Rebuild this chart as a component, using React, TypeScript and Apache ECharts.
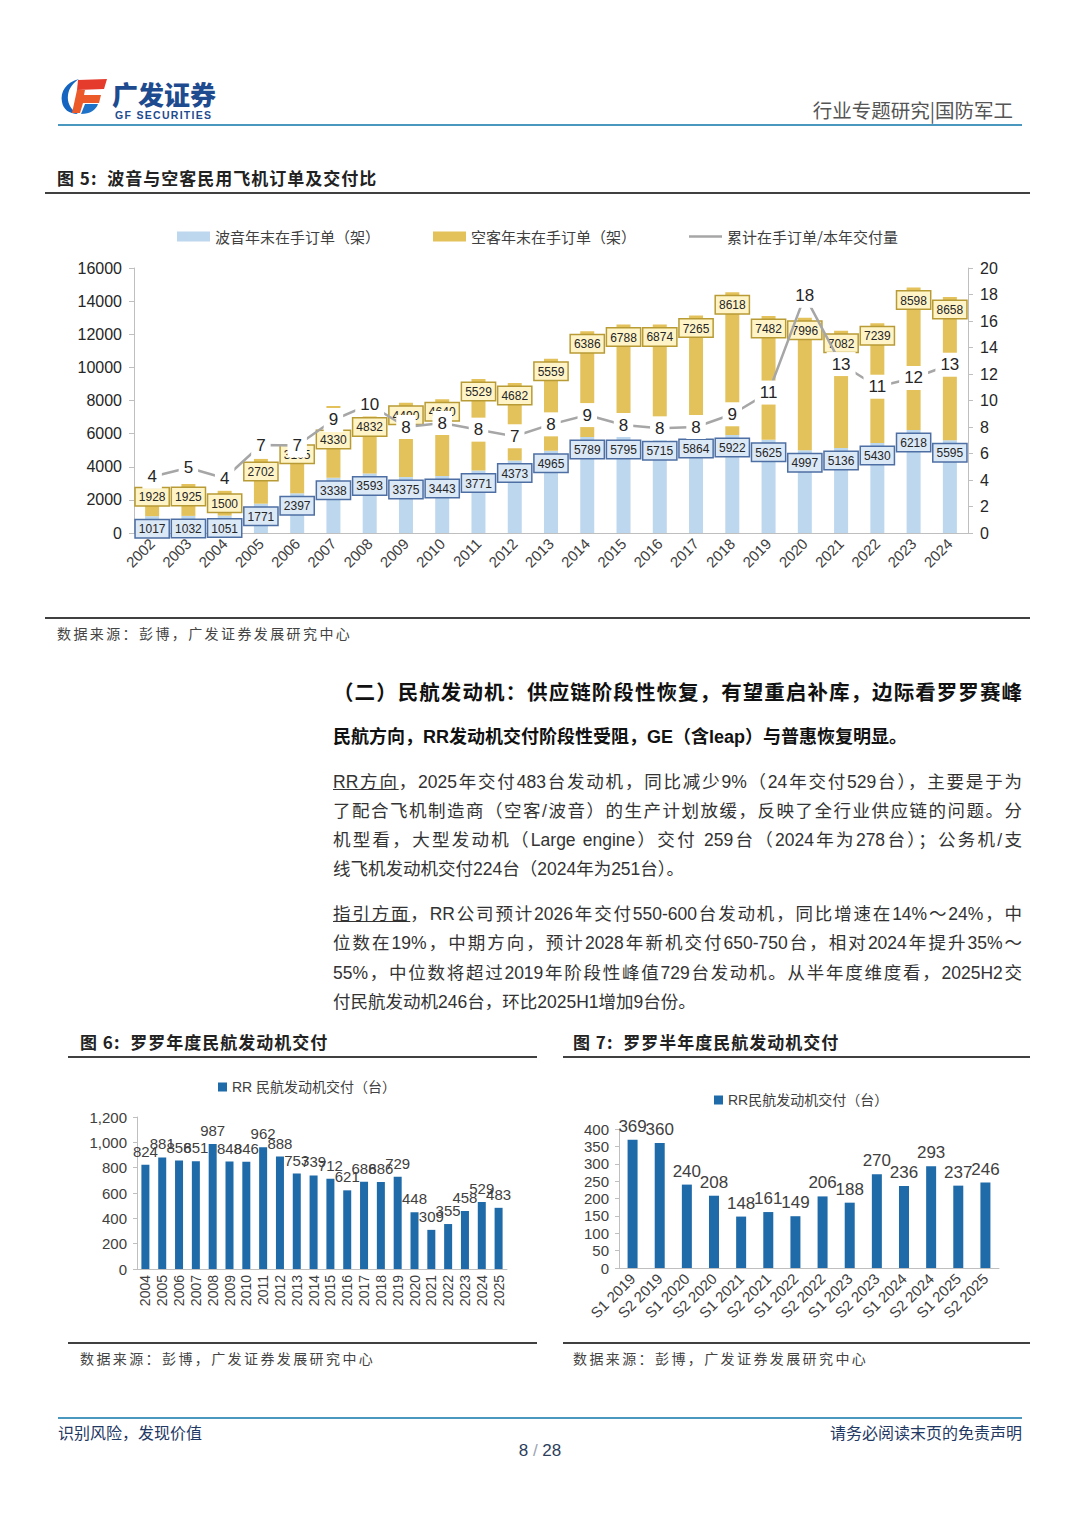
import React, { useEffect, useRef } from "react";
import * as echarts from "echarts";

// ---------- data ----------
const years5 = ["2002","2003","2004","2005","2006","2007","2008","2009","2010","2011","2012","2013","2014","2015","2016","2017","2018","2019","2020","2021","2022","2023","2024"];
const boeingBacklog = [1017,1032,1051,1771,2397,3338,3593,3375,3443,3771,4373,4965,5789,5795,5715,5864,5922,5625,4997,5136,5430,6218,5595];
const airbusBacklog = [1928,1925,1500,2702,3105,4330,4832,4490,4640,5529,4682,5559,6386,6788,6874,7265,8618,7482,7996,7082,7239,8598,8658];
const backlogRatio = [4.25,4.93,4.13,6.64,6.6,8.53,9.7,8.0,8.3,7.8,7.3,8.2,8.9,8.15,7.9,8.0,8.96,10.6,17.9,12.75,11.04,11.7,12.7];

const years6 = ["2004","2005","2006","2007","2008","2009","2010","2011","2012","2013","2014","2015","2016","2017","2018","2019","2020","2021","2022","2023","2024","2025"];
const rrAnnual = [824,881,856,851,987,848,846,962,888,753,739,712,621,688,686,729,448,309,355,458,529,483];

const halves7 = ["S1 2019","S2 2019","S1 2020","S2 2020","S1 2021","S2 2021","S1 2022","S2 2022","S1 2023","S2 2023","S1 2024","S2 2024","S1 2025","S2 2025"];
const rrHalf = [369,360,240,208,148,161,149,206,188,270,236,293,237,246];

// years whose Airbus label sits lower in the reference (moved below the ratio label)
const loweredAirbusLabelYears = ["2007", "2008"];

const seriesNames = {
  boeing: "波音年末在手订单（架）",
  airbus: "空客年末在手订单（架）",
  ratio: "累计在手订单/本年交付量",
  annual: "RR 民航发动机交付（台）",
  half: "RR民航发动机交付（台）",
};

const LAT = '"Liberation Sans", Arial, "Noto Sans CJK SC", sans-serif';
const CJK = '"Noto Sans CJK SC", "Liberation Sans", sans-serif';
const MIX = '"Liberation Sans", "Noto Sans CJK SC", sans-serif';

const axisGray = "#bfbfbf";
const txt = "#404040";

function Txt(props: { x?: number; right?: number; cy: number; size: number; h?: number; children: any; style?: any }) {
  const h = props.h ?? Math.round(props.size * 1.5);
  const st: any = {
    position: "absolute",
    top: props.cy - h / 2,
    height: h,
    lineHeight: h + "px",
    fontSize: props.size,
    fontFamily: MIX,
    whiteSpace: "nowrap",
    ...props.style,
  };
  if (props.x !== undefined) st.left = props.x;
  if (props.right !== undefined) st.right = 1080 - props.right;
  return <div style={st}>{props.children}</div>;
}

function Rule(props: { x1: number; x2: number; y: number; w: number; color: string }) {
  return (
    <div
      style={{
        position: "absolute",
        left: props.x1,
        top: props.y - props.w / 2,
        width: props.x2 - props.x1,
        height: props.w,
        background: props.color,
      }}
    />
  );
}

function JLine(props: { cy: number; children: any; last?: boolean; size?: number }) {
  const size = props.size ?? 17.5;
  const h = 26;
  return (
    <div
      style={{
        position: "absolute",
        left: 333,
        top: props.cy - h / 2,
        width: 689,
        height: h,
        lineHeight: h + "px",
        fontSize: size,
        fontFamily: MIX,
        color: "#333",
        textAlign: props.last ? "left" : "justify",
        textAlignLast: props.last ? "left" : "justify",
      } as any}
    >
      {props.children}
    </div>
  );
}

export default function App() {
  const ref = useRef<HTMLDivElement>(null);

  useEffect(() => {
    if (!ref.current) return;
    const chart = echarts.init(ref.current, undefined, { renderer: "svg" });

    const boxLabel = (bg: string, border: string) => ({
      show: true,
      position: "insideTop",
      distance: 4,
      fontSize: 12,
      fontFamily: LAT,
      color: "#262626",
      backgroundColor: bg,
      borderColor: border,
      borderWidth: 1.5,
      padding: [3, 3, 2, 3],
    });

    const airbusData = airbusBacklog.map((v, i) =>
      loweredAirbusLabelYears.includes(years5[i]) ? { value: v, label: { offset: [0, 21] } } : v
    );

    const option: any = {
      animation: false,
      textStyle: { fontFamily: LAT },
      legend: [
        {
          left: 172,
          top: 224,
          itemWidth: 33,
          itemHeight: 10,
          itemGap: 53,
          selectedMode: false,
          textStyle: { fontFamily: CJK, fontSize: 15, color: txt },
          data: [
            { name: seriesNames.boeing, icon: "rect" },
            { name: seriesNames.airbus, icon: "rect" },
            { name: seriesNames.ratio, icon: "path://M0,0h40v3h-40z" },
          ],
        },
        {
          left: 213,
          top: 1075,
          itemWidth: 9,
          itemHeight: 9,
          selectedMode: false,
          textStyle: { fontFamily: MIX, fontSize: 14, color: txt },
          data: [{ name: seriesNames.annual, icon: "rect" }],
        },
        {
          left: 709,
          top: 1088,
          itemWidth: 9,
          itemHeight: 9,
          selectedMode: false,
          textStyle: { fontFamily: MIX, fontSize: 14, color: txt },
          data: [{ name: seriesNames.half, icon: "rect" }],
        },
      ],
      grid: [
        { left: 134, top: 268, width: 834, height: 265 },
        { left: 137, top: 1117, width: 370, height: 152 },
        { left: 619, top: 1129, width: 380, height: 139 },
      ],
      xAxis: [
        {
          type: "category",
          gridIndex: 0,
          data: years5,
          axisLine: { lineStyle: { color: axisGray } },
          axisTick: { show: false },
          axisLabel: { interval: 0, rotate: 45, fontSize: 15, color: txt, margin: 8 },
        },
        {
          type: "category",
          gridIndex: 1,
          data: years6,
          axisLine: { lineStyle: { color: axisGray } },
          axisTick: { show: false },
          axisLabel: { interval: 0, rotate: 90, fontSize: 14, color: txt, margin: 6 },
        },
        {
          type: "category",
          gridIndex: 2,
          data: halves7,
          axisLine: { lineStyle: { color: axisGray } },
          axisTick: { show: false },
          axisLabel: { interval: 0, rotate: 45, fontSize: 15, color: txt, margin: 8 },
        },
      ],
      yAxis: [
        {
          type: "value",
          gridIndex: 0,
          min: 0,
          max: 16000,
          interval: 2000,
          axisLine: { show: true, lineStyle: { color: axisGray } },
          axisTick: { show: true, length: 5, lineStyle: { color: axisGray } },
          splitLine: { show: false },
          axisLabel: { fontSize: 16, color: "#262626", margin: 12, formatter: (v: number) => String(v) },
        },
        {
          type: "value",
          gridIndex: 0,
          position: "right",
          min: 0,
          max: 20,
          interval: 2,
          axisLine: { show: true, lineStyle: { color: axisGray } },
          axisTick: { show: true, length: 5, lineStyle: { color: axisGray } },
          splitLine: { show: false },
          axisLabel: { fontSize: 16, color: "#262626", margin: 12 },
        },
        {
          type: "value",
          gridIndex: 1,
          min: 0,
          max: 1200,
          interval: 200,
          axisLine: { show: true, lineStyle: { color: axisGray } },
          axisTick: { show: true, length: 4, lineStyle: { color: axisGray } },
          splitLine: { show: false },
          axisLabel: {
            fontSize: 15,
            color: txt,
            margin: 10,
            formatter: (v: number) => v.toLocaleString("en-US"),
          },
        },
        {
          type: "value",
          gridIndex: 2,
          min: 0,
          max: 400,
          interval: 50,
          axisLine: { show: true, lineStyle: { color: axisGray } },
          axisTick: { show: true, length: 4, lineStyle: { color: axisGray } },
          splitLine: { show: false },
          axisLabel: { fontSize: 15, color: txt, margin: 10 },
        },
      ],
      series: [
        {
          name: seriesNames.boeing,
          type: "bar",
          xAxisIndex: 0,
          yAxisIndex: 0,
          stack: "backlog",
          barWidth: 14,
          data: boeingBacklog,
          itemStyle: { color: "#bdd7ee" },
          label: boxLabel("#dbe8f6", "#4e6fa3"),
        },
        {
          name: seriesNames.airbus,
          type: "bar",
          xAxisIndex: 0,
          yAxisIndex: 0,
          stack: "backlog",
          barWidth: 14,
          data: airbusData,
          itemStyle: { color: "#e4c25b" },
          label: boxLabel("#fff4c8", "#b89b34"),
        },
        {
          name: seriesNames.ratio,
          type: "line",
          xAxisIndex: 0,
          yAxisIndex: 1,
          z: 3,
          data: backlogRatio,
          symbol: "circle",
          symbolSize: 3,
          lineStyle: { color: "#a6a6a6", width: 2.5 },
          itemStyle: { color: "#a6a6a6" },
          label: {
            show: true,
            position: "inside",
            fontSize: 17,
            fontFamily: LAT,
            color: "#262626",
            backgroundColor: "#ffffff",
            padding: [4, 5, 3, 5],
            formatter: (p: any) => String(Math.round(p.value)),
          },
        },
        {
          name: seriesNames.annual,
          type: "bar",
          xAxisIndex: 1,
          yAxisIndex: 2,
          barWidth: 8,
          data: rrAnnual,
          itemStyle: { color: "#1f6aa8" },
          label: { show: true, position: "top", distance: 6, fontSize: 15, color: txt },
        },
        {
          name: seriesNames.half,
          type: "bar",
          xAxisIndex: 2,
          yAxisIndex: 3,
          barWidth: 10,
          data: rrHalf,
          itemStyle: { color: "#1f6aa8" },
          label: { show: true, position: "top", distance: 5, fontSize: 17, color: txt },
        },
      ],
    };

    chart.setOption(option);
    return () => chart.dispose();
  }, []);

  const teal = "#4a98bf";
  const dark = "#404040";
  const titleStyle = { fontWeight: 700, color: "#222", letterSpacing: "1px", fontFamily: CJK };
  const srcStyle = { color: "#444", letterSpacing: "2.4px", fontFamily: CJK };

  return (
    <div style={{ position: "absolute", left: 0, top: 0, width: 1080, height: 1527, background: "#fff", overflow: "hidden" }}>
      <div ref={ref} style={{ position: "absolute", left: 0, top: 0, width: 1080, height: 1527 }} />

      {/* header logo */}
      <svg style={{ position: "absolute", left: 55, top: 75 }} width={60} height={45} viewBox="55 75 60 45">
        <path d="M79,79 C66,82 60,92 62,102 C63,109 69,114 78,114 C70,109 67,102 68,95 C69,88 73,83 79,79 Z" fill="#1565c0" />
        <path d="M78,80 L107,79 L104,89 L77,90 Z" fill="#e53b2c" />
        <path d="M77,90 L85,90 L84,95 L101,95 L99,103 L83,103 L80,113 L72,113 Z" fill="#ec5a2a" />
        <path d="M85,104 L98,104 C96,110 90,114 81,114 Z" fill="#1e73c8" />
      </svg>
      <Txt x={112} cy={94} size={26} h={28} style={{ fontWeight: 900, color: "#1e4b8f", fontFamily: CJK }}>广发证券</Txt>
      <Txt x={115} cy={115.5} size={10.5} h={11} style={{ fontWeight: 700, color: "#1e4b8f", letterSpacing: "1.3px", fontFamily: LAT }}>GF SECURITIES</Txt>
      <Txt right={1013} cy={109} size={19.5} style={{ color: "#555", fontFamily: CJK }}>行业专题研究|国防军工</Txt>
      <Rule x1={58} x2={1022} y={125} w={2.5} color={teal} />

      {/* figure 5 */}
      <Txt x={57} cy={178} size={17} style={titleStyle}>图 5:&nbsp; 波音与空客民用飞机订单及交付比</Txt>
      <Rule x1={45} x2={1030} y={193} w={1.5} color={dark} />
      <Rule x1={45} x2={1030} y={618} w={1.2} color={dark} />
      <Txt x={57} cy={633} size={14} style={srcStyle}>数据来源：彭博，广发证券发展研究中心</Txt>

      {/* section text */}
      <JLine cy={693} size={20.5}><b style={{ color: "#111" }}>（二）民航发动机：供应链阶段性恢复，有望重启补库，边际看罗罗赛峰</b></JLine>
      <JLine cy={737} size={18} last><b style={{ color: "#111" }}>民航方向，RR发动机交付阶段性受阻，GE（含leap）与普惠恢复明显。</b></JLine>

      <JLine cy={782}><span style={{ textDecoration: "underline" }}>RR方向</span>，2025年交付483台发动机，同比减少9%（24年交付529台），主要是于为</JLine>
      <JLine cy={811}>了配合飞机制造商（空客/波音）的生产计划放缓，反映了全行业供应链的问题。分</JLine>
      <JLine cy={840}>机型看，大型发动机（Large engine）交付 259台（2024年为278台）；公务机/支</JLine>
      <JLine cy={869} last>线飞机发动机交付224台（2024年为251台）。</JLine>

      <JLine cy={914}><span style={{ textDecoration: "underline" }}>指引方面</span>，RR公司预计2026年交付550-600台发动机，同比增速在14%～24%，中</JLine>
      <JLine cy={943}>位数在19%，中期方向，预计2028年新机交付650-750台，相对2024年提升35%～</JLine>
      <JLine cy={973}>55%，中位数将超过2019年阶段性峰值729台发动机。从半年度维度看，2025H2交</JLine>
      <JLine cy={1002} last>付民航发动机246台，环比2025H1增加9台份。</JLine>

      {/* figure 6 & 7 frames */}
      <Txt x={80} cy={1042} size={17} style={titleStyle}>图 6:&nbsp; 罗罗年度民航发动机交付</Txt>
      <Txt x={573} cy={1042} size={17} style={titleStyle}>图 7:&nbsp; 罗罗半年度民航发动机交付</Txt>
      <Rule x1={68} x2={537} y={1057} w={1.5} color={dark} />
      <Rule x1={563} x2={1030} y={1057} w={1.5} color={dark} />
      <Rule x1={68} x2={537} y={1343} w={1.2} color={dark} />
      <Rule x1={563} x2={1030} y={1343} w={1.2} color={dark} />
      <Txt x={80} cy={1358} size={14} style={srcStyle}>数据来源：彭博，广发证券发展研究中心</Txt>
      <Txt x={573} cy={1358} size={14} style={srcStyle}>数据来源：彭博，广发证券发展研究中心</Txt>

      {/* footer */}
      <Rule x1={58} x2={1022} y={1418} w={2.5} color={teal} />
      <Txt x={58} cy={1432} size={16} style={{ color: "#1f3864", fontFamily: CJK }}>识别风险，发现价值</Txt>
      <Txt right={1022} cy={1432} size={16} style={{ color: "#1f3864", fontFamily: CJK }}>请务必阅读末页的免责声明</Txt>
      <div style={{ position: "absolute", left: 440, width: 200, top: 1439, height: 24, lineHeight: "24px", textAlign: "center", fontSize: 17, fontFamily: LAT, color: "#2c3e5c" }}>
        8 <span style={{ color: "#9aa4b2" }}>/</span> 28
      </div>
    </div>
  );
}
